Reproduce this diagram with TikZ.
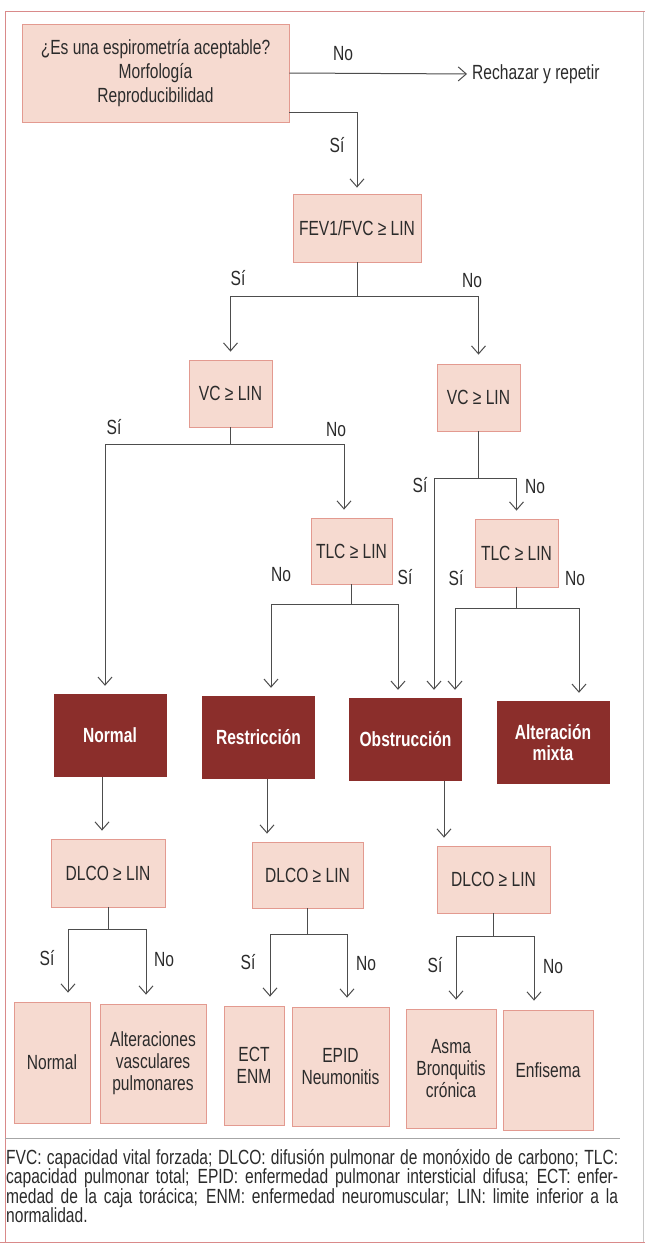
\documentclass[tikz,border=0pt]{standalone}
\usepackage{fontspec}
\setmainfont{Liberation Sans}[FakeStretch=0.76]
\usetikzlibrary{arrows.meta}

\definecolor{boxfill}{HTML}{F6DAD0}
\definecolor{boxline}{HTML}{E39A90}
\definecolor{darkbox}{HTML}{8B2E2B}
\definecolor{linegray}{HTML}{4D4D4D}
\definecolor{textgray}{HTML}{2B2B2B}
\definecolor{framered}{HTML}{D98A8A}

\tikzstyle{cell} = [draw=boxline,fill=boxfill,line width=0.8pt,inner sep=0pt,align=center,text=textgray,font=\fontsize{20.5}{22}\selectfont]
\tikzstyle{result} = [fill=darkbox,inner sep=0pt,align=center,text=white,font=\bfseries\fontsize{20.5}{21}\selectfont]
\tikzstyle{answer} = [text=textgray,inner sep=1pt,font=\fontsize{20.5}{22}\selectfont]
\tikzstyle{arrowdecorate} = [-{Straight Barb[length=8pt,width=14pt]},draw=linegray,line width=1pt,shorten >=8pt]

\begin{document}
\begin{tikzpicture}[x=1pt,y=-1pt]
    \useasboundingbox (0,0) rectangle (645,1247);
    \fill[white] (0,0) rectangle (645,1247);

    %frame
    \draw[framered,line width=1pt] (5,1242) -- (5,12) -- (645,12);
    \draw[gray!45,line width=0.8pt] (643,12) -- (643,1242);
    \draw[framered,line width=1pt] (0,1242) -- (645,1242);
    \draw[gray!70,line width=0.8pt] (5,1138) -- (620,1138);

    %question boxes
    \node[cell,minimum width=267pt,minimum height=98pt,font=\fontsize{20.5}{24}\selectfont] (top) at (155.5,73)
      {¿Es una espirometría aceptable?\\Morfología\\Reproducibilidad};
    \node[answer,anchor=west,inner sep=0pt] (rech) at (472,74) {Rechazar y repetir};

    \foreach \nodename/\x/\y/\w/\h/\txt in {
        fev/357/228/128/68/{FEV1/FVC ≥ LIN},
        vcl/230.5/393.5/83/67/{VC ≥ LIN},
        vcr/478.5/397.5/83/67/{VC ≥ LIN},
        tlcl/351.5/551/81/66/{TLC ≥ LIN},
        tlcr/516.5/553/83/68/{TLC ≥ LIN},
        dlcoa/108/873/114/68/{DLCO ≥ LIN},
        dlcob/307.5/875/111/66/{DLCO ≥ LIN},
        dlcoc/493.5/879.5/113/67/{DLCO ≥ LIN},
        leafa/52/1062.5/76/121/{Normal},
        leafb/153/1063.5/106/119/{Alteraciones\\vasculares\\pulmonares},
        leafc/254/1065.5/60/119/{ECT\\ENM},
        leafd/340.5/1066.5/97/119/{EPID\\Neumonitis},
        leafe/451/1068.5/90/119/{Asma\\Bronquitis\\crónica},
        leaff/548/1070/90/120/{Enfisema}}
    {
      \node[cell,minimum width=\w pt,minimum height=\h pt] (\nodename) at (\x,\y) {\txt};
    }

    %results
    \foreach \nodename/\x/\y/\txt in {
        normal/110/735.5/{Normal},
        restr/258.5/737.5/{Restricción},
        obstr/405.5/739.5/{Obstrucción},
        mixta/553/742.5/{Alteración\\mixta}}
    {
      \node[result,minimum width=113pt,minimum height=83pt] (\nodename) at (\x,\y) {\txt};
    }

    %answers
    \foreach \nodename/\x/\y/\txt in {
        lno0/343/54/No, lsi0/337/145/Sí,
        lsi1/238/278/Sí, lno1/472/281/No,
        lsi2/114/427/Sí, lno2/336/430/No,
        lsi3/420/485/Sí, lno3/535/487/No,
        lno4/281/575/No, lsi4/405/577/Sí,
        lsi5/456/578/Sí, lno5/575/579/No,
        lsi6/47/958/Sí, lno6/164/960/No,
        lsi7/248/962/Sí, lno7/366/964/No,
        lsi8/435/965/Sí, lno8/553/967/No}
    {
      \node[answer] (\nodename) at (\x,\y) {\txt};
    }

    %edges
    \draw[arrowdecorate,shorten >=5pt] (top.east) -- (rech.west);
    \draw[arrowdecorate,shorten >=6pt] ([yshift=10pt]top.south east) -| (fev.north);
    \draw[arrowdecorate] (fev.south) -- ++(0,34) -| (vcl.north);
    \draw[arrowdecorate,shorten >=9pt] (fev.south) -- ++(0,34) -| (vcr.north);
    \draw[arrowdecorate] (vcl.south) -- ++(0,17) -| ([xshift=-5pt]normal.north);
    \draw[arrowdecorate] (vcl.south) -- ++(0,17) -| ([xshift=-7.5pt]tlcl.north);
    \draw[arrowdecorate] (vcr.south) -- ++(0,47) -| ([xshift=28.5pt]obstr.north);
    \draw[arrowdecorate] (vcr.south) -- ++(0,47) -| (tlcr.north);
    \draw[arrowdecorate] (tlcl.south) -- ++(0,20) -| ([xshift=12.5pt]restr.north);
    \draw[arrowdecorate] (tlcl.south) -- ++(0,20) -| ([xshift=-7.5pt]obstr.north);
    \draw[arrowdecorate] (tlcr.south) -- ++(0,21) -| ([xshift=49.5pt]obstr.north);
    \draw[arrowdecorate] (tlcr.south) -- ++(0,21) -| ([xshift=26pt]mixta.north);
    \draw[arrowdecorate] ([xshift=-8pt]normal.south) -- ([xshift=-6pt]dlcoa.north);
    \draw[arrowdecorate] ([xshift=8.5pt]restr.south) -- ([xshift=-40.5pt]dlcob.north);
    \draw[arrowdecorate] ([xshift=38.5pt]obstr.south) -- ([xshift=-49.5pt]dlcoc.north);

    \foreach \parent/\leftleaf/\rightleaf/\drop/\ls/\rs in {
        dlcoa/leafa/leafb/22/16/-7,
        dlcob/leafc/leafd/26/16/6.5,
        dlcoc/leafe/leaff/23/5/-14}
    {
      \draw[arrowdecorate,shorten >=9pt] (\parent.south) -- ++(0,\drop) -| ([xshift=\ls pt]\leftleaf.north);
      \draw[arrowdecorate,shorten >=9pt] (\parent.south) -- ++(0,\drop) -| ([xshift=\rs pt]\rightleaf.north);
    }

    %notes
    \node[anchor=north west,text width=612pt,align=justify,inner sep=0pt,text=textgray,font=\fontsize{20.5}{19.5}\selectfont] (notes) at (6,1149)
      {FVC: capacidad vital forzada; DLCO: difusión pulmonar de monóxido de carbono; TLC:\linebreak
       capacidad pulmonar total; EPID: enfermedad pulmonar intersticial difusa; ECT: enfer-\linebreak
       medad de la caja torácica; ENM: enfermedad neuromuscular; LIN: limite inferior a la\linebreak
       normalidad.};
\end{tikzpicture}
\end{document}
